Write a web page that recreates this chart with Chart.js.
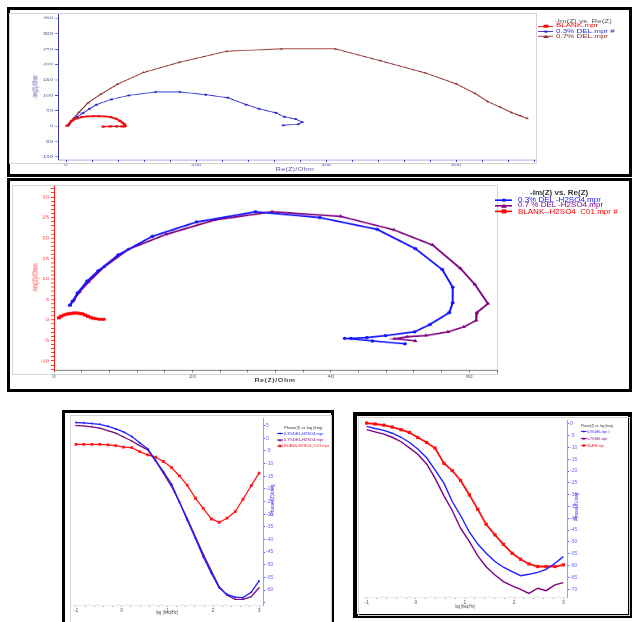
<!DOCTYPE html>
<html>
<head>
<meta charset="utf-8">
<script src="https://cdn.jsdelivr.net/npm/chart.js@4.4.1/dist/chart.umd.min.js"></script>
<style>
  body { margin:0; background:#fff; width:636px; height:622px; overflow:hidden; position:relative;
         font-family:"Liberation Sans", Arial, sans-serif; }
  .frame { position:absolute; border:3px solid #000; box-sizing:border-box; }
  .inner { position:absolute; border:1px solid #d4d4d4; box-sizing:border-box; }
  canvas { position:absolute; }
  .t { position:absolute; white-space:nowrap; line-height:1; }
  .leg { position:absolute; transform-origin:0 0; white-space:nowrap; }
  .mk { display:inline-block; position:relative; vertical-align:top; }
  .mk i { position:absolute; left:50%; top:50%; transform:translate(-50%,-50%); }
  .mk i.rect { width:5px; height:5px; background:var(--c); }
  .mk i.circle { width:4px; height:4px; border-radius:50%; background:var(--c); }
  .mk i.triangle { width:0; height:0; border-left:3px solid transparent; border-right:3px solid transparent; border-bottom:5px solid var(--c); }
</style>
</head>
<body>
<div class="frame" style="left:7px;top:7px;width:625px;height:170px"></div>
<div class="frame" style="left:7px;top:178px;width:625px;height:214px"></div>
<div class="frame" style="left:62px;top:410px;width:272px;height:230px"></div>
<div class="frame" style="left:353px;top:412px;width:279px;height:206px;border-width:4px"></div>
<div class="inner" style="left:9px;top:13px;width:528px;height:151px"></div>
<div class="inner" style="left:12px;top:185px;width:486px;height:190px"></div>
<div class="inner" style="left:70px;top:415px;width:262px;height:210px"></div>
<div class="inner" style="left:358px;top:417px;width:272px;height:199px"></div>

<script>
// ─── Data ────────────────────────────────────────────────────────────────────
// top: Nyquist, BLANK / 0.3% / 0.7% DEL
const p1BlankRe = [1.5, 3.6, 8.7, 16.4, 24.1, 32.8, 42, 50.8, 60, 69, 77, 83, 87, 90, 91, 90, 86, 78, 68, 57];
const p1BlankIm = [1, 3, 17, 25, 29, 31.5, 32.5, 32.5, 31.5, 29, 24, 17, 11, 5.5, 1, -1, -1, -1, -1, -1.5];
const p1Del3Re  = [2, 5, 10, 17, 26, 36, 47, 70, 97, 138, 175, 215, 249, 277, 297, 323, 336, 353, 363, 357, 334];
const p1Del3Im  = [1, 8, 18, 30, 42, 56, 70, 87, 100, 111, 111, 102, 92, 70, 56, 43, 30, 23, 13, 6, 3];
const p1Del7Re  = [2, 6, 12, 20, 34, 53, 79, 119, 174, 247, 331, 414, 484, 552, 600, 629, 648, 668, 685, 698, 709];
const p1Del7Im  = [2, 12, 26, 45, 76, 103, 136, 174, 207, 243, 251, 251, 212, 173, 137, 106, 80, 61, 44, 34, 25];

// middle: Nyquist in H2SO4
const p2Del3Re  = [2.3, 2.7, 3.4, 4.8, 6.4, 9.3, 14.2, 20.6, 29.1, 38.4, 46.7, 52.2, 56.1, 57.6, 57.6, 57.1, 54.3, 52.1, 47.9, 45.2, 42.9, 42.0, 46.0, 50.7];
const p2Del3Im  = [3.6, 4.6, 6.6, 9.5, 12.0, 15.9, 20.4, 23.9, 26.4, 25.0, 22.1, 17.4, 12.3, 8.0, 4.2, 1.8, -1.1, -2.9, -3.8, -4.3, -4.5, -4.5, -5.1, -5.8];
const p2Del7Re  = [2.3, 2.9, 3.7, 5.0, 7.2, 10.7, 16.2, 23.2, 31.5, 41.4, 49.1, 54.7, 58.7, 60.8, 62.7, 61.1, 61.0, 59.2, 56.9, 53.7, 51.0, 49.2, 52.2];
const p2Del7Im  = [3.6, 5.0, 6.9, 9.3, 12.9, 17.2, 20.9, 24.4, 26.4, 25.3, 22.0, 18.3, 12.6, 8.7, 4.0, 1.8, -0.1, -1.7, -2.9, -3.8, -4.1, -4.6, -5.1];
const p2BlankRe = [0.7, 1.0, 1.4, 1.8, 2.1, 2.5, 2.9, 3.3, 3.7, 4.1, 4.5, 4.9, 5.3, 5.7, 6.1, 6.5, 6.9, 7.2];
const p2BlankIm = [0.5, 0.9, 1.2, 1.4, 1.5, 1.6, 1.7, 1.7, 1.6, 1.5, 1.2, 0.9, 0.6, 0.4, 0.3, 0.2, 0.2, 0.2];

// bottom: Bode phase, log(freq)
const logF = [-1.00, -0.83, -0.65, -0.48, -0.30, -0.13, 0.04, 0.22, 0.39, 0.57, 0.74, 0.91,
              1.09, 1.26, 1.43, 1.61, 1.78, 1.96, 2.13, 2.30, 2.48, 2.65, 2.83, 3.00];
const p3Del3  = [6.2, 6.1, 5.8, 5.5, 4.7, 3.7, 2.5, 0.7, -1.8, -4.2, -8.7, -13.2, -18.2, -25.1, -32.3, -39.6, -46.8, -53.4, -59.1, -61.7, -62.8, -63.0, -60.9, -56.4];
const p3Del7  = [5.0, 4.9, 4.5, 4.0, 3.0, 2.0, 0.5, -1.1, -2.9, -4.6, -9.0, -13.8, -19.1, -25.3, -31.6, -38.9, -45.8, -52.5, -58.7, -62.0, -63.7, -63.7, -62.6, -59.1];
const p3Blank = [-2.4, -2.4, -2.4, -2.4, -2.6, -2.9, -3.5, -3.7, -5.3, -6.6, -7.5, -9.2, -11.6, -14.9, -18.5, -23.7, -27.7, -31.9, -33.2, -31.6, -29.0, -24.1, -18.7, -13.8];
const p4Del3  = [-1.1, -2.0, -2.8, -4.0, -5.7, -7.9, -10.7, -14.4, -19.5, -25.1, -32.9, -38.8, -45.9, -50.9, -54.8, -58.3, -60.7, -62.6, -64.3, -63.7, -62.9, -61.6, -59.0, -56.2];
const p4Del7  = [-2.5, -3.4, -4.4, -5.7, -7.6, -10.2, -12.9, -17.0, -23.0, -30.4, -36.7, -44.2, -49.9, -55.9, -60.5, -64.0, -66.8, -68.6, -70.1, -71.8, -69.6, -70.6, -68.2, -67.2];
const p4Blank = [0.3, -0.1, -0.6, -1.4, -2.5, -3.7, -5.8, -7.9, -10.3, -16.7, -19.8, -24.0, -30.1, -36.2, -42.5, -47.0, -51.0, -54.8, -57.3, -59.3, -60.4, -60.4, -60.4, -59.7];

const FONT = '"Liberation Sans", Arial, sans-serif';

function pts(xs, ys) { return xs.map((x, i) => ({ x, y: ys[i] })); }

function ser(label, xs, ys, color, style, r, lw) {
  return { label, data: pts(xs, ys), showLine: true, tension: 0,
    borderColor: color, backgroundColor: color, borderWidth: lw,
    pointStyle: style, pointRadius: r, pointBorderWidth: 0, pointBackgroundColor: color };
}

function axis(o, fit) {
  return {
    type: 'linear', position: o.position, min: o.min, max: o.max,
    ticks: { stepSize: o.step, autoSkip: false, maxRotation: 0, minRotation: 0, includeBounds: false,
             padding: o.pad, color: o.labelColor, font: { family: FONT, size: o.size },
             callback: v => o.label(v) },
    grid: { drawOnChartArea: false, drawTicks: true, tickLength: o.tick, tickColor: o.tickColor },
    border: { display: true, color: o.lineColor, width: 1 },
    afterFit: fit
  };
}

// box = canvas rect on page, area = plot rect on page, sy = vertical squash of the old scan
function panel(box, area, sy, xo, yo, datasets) {
  const cv = document.createElement('canvas');
  cv.width = box.w; cv.height = Math.round(box.h / sy);
  cv.style.left = box.l + 'px'; cv.style.top = box.t + 'px';
  cv.style.width = box.w + 'px'; cv.style.height = box.h + 'px';
  document.body.appendChild(cv);
  const right = yo.position === 'right';
  const yW = right ? box.l + box.w - area.r : area.l - box.l;
  const xH = (box.t + box.h - area.b) / sy;
  new Chart(cv, {
    type: 'scatter',
    data: { datasets },
    options: {
      responsive: false, animation: false, devicePixelRatio: 1,
      layout: { padding: { left: right ? area.l - box.l : 0, right: right ? 0 : box.l + box.w - area.r,
                           top: (area.t - box.t) / sy, bottom: 0 } },
      plugins: { legend: { display: false }, tooltip: { enabled: false } },
      scales: {
        x: axis(Object.assign({ position: 'bottom' }, xo), s => { s.height = xH; }),
        y: axis(yo, s => { s.width = yW; })
      }
    }
  });
}

function txt(s, cx, cy, o) {
  const d = document.createElement('div');
  d.className = 't';
  d.textContent = s;
  d.style.left = cx + 'px'; d.style.top = cy + 'px';
  d.style.fontSize = o.size + 'px'; d.style.color = o.color;
  if (o.bold) d.style.fontWeight = 'bold';
  if (o.ls) d.style.letterSpacing = o.ls + 'px';
  d.style.transform = `translate(-50%,-50%) rotate(${o.rot || 0}deg) scale(${o.sx || 1},${o.sy || 1})`;
  document.body.appendChild(d);
}

function legend(x, y, sx, sy, o) {
  const d = document.createElement('div');
  d.className = 'leg';
  d.style.left = x + 'px'; d.style.top = y + 'px';
  d.style.transform = `scale(${sx},${sy})`;
  d.style.fontSize = o.size + 'px'; d.style.lineHeight = o.lh + 'px';
  let h = `<div style="padding-left:${o.indent}px;color:${o.tc};height:${o.th}px;line-height:${o.th}px;${o.tb ? 'font-weight:bold;' : ''}">${o.title}</div>`;
  for (const r of o.rows) {
    h += `<div style="height:${o.lh}px"><span class="mk" style="width:${o.mw}px;height:${o.lh}px;margin-right:${o.gap}px;` +
         `background:linear-gradient(${r.c},${r.c}) 0 50%/100% ${o.lw}px no-repeat"><i class="${r.s}" style="--c:${r.c}"></i></span>` +
         `<span style="color:${r.c}">${r.t}</span></div>`;
  }
  d.innerHTML = h;
  document.body.appendChild(d);
}

// ─── top panel ───────────────────────────────────────────────────────────────
panel({ l: 10, t: 10, w: 530, h: 164 }, { l: 58, t: 14, r: 535, b: 160 }, 0.65,
  { min: -12.3, max: 721, step: 40, label: v => v % 200 === 0 ? v : '', labelColor: '#55559a',
    lineColor: '#3c3cb4', tickColor: '#3c3cb4', tick: 3, pad: 1, size: 6 },
  { position: 'left', min: -110, max: 364, step: 50, label: v => v, labelColor: '#55559a',
    lineColor: '#3c3cb4', tickColor: '#3c3cb4', tick: 3, pad: 2, size: 6 },
  [ ser('BLANK.mpr', p1BlankRe, p1BlankIm, '#ee0a0a', 'rect', 2.2, 2.4),
    ser('0.3% DEL.mpr #', p1Del3Re, p1Del3Im, '#2a2ad0', 'circle', 1.6, 1.3),
    ser('0.7% DEL.mpr', p1Del7Re, p1Del7Im, '#8e2a2a', 'triangle', 2, 1.3) ]);
txt('-Im(Z)/Ohm', 35, 87, { size: 7, color: '#4545b0', rot: -90, sx: 0.65 });
txt('Re(Z)/Ohm', 295, 169, { size: 7, color: '#555599', sy: 0.65, ls: 0.4 });
legend(538, 18.5, 1, 0.6, { size: 8, lh: 8.3, th: 8.3, indent: 17, tc: '#555', title: '-Im(Z) vs. Re(Z)', mw: 15, gap: 3, lw: 1.5,
  rows: [ { c: '#ee0a0a', s: 'rect', t: 'BLANK.mpr' }, { c: '#2a2ad0', s: 'circle', t: '0.3% DEL.mpr #' },
          { c: '#8e2a2a', s: 'triangle', t: '0.7% DEL.mpr' } ] });

// ─── middle panel ────────────────────────────────────────────────────────────
panel({ l: 10, t: 181, w: 492, h: 208 }, { l: 54, t: 186, r: 497, b: 370 }, 0.8,
  { min: 0, max: 64, step: 4, label: v => v % 20 === 0 ? v : '', labelColor: '#555',
    lineColor: '#555', tickColor: '#777', tick: 3, pad: 1, size: 6 },
  { position: 'left', min: -12.2, max: 32.7, step: 1, label: v => v % 5 === 0 ? v : '', labelColor: '#ff3a3a',
    lineColor: '#ff1a1a', tickColor: '#ff1a1a', tick: 3, pad: 2, size: 6 },
  [ ser('0.3% DEL -H2SO4.mpr', p2Del3Re, p2Del3Im, '#1414ff', 'circle', 2, 2),
    ser('0.7 % DEL -H2SO4.mpr', p2Del7Re, p2Del7Im, '#800080', 'triangle', 2.6, 2),
    ser('BLANK--H2SO4_C01.mpr #', p2BlankRe, p2BlankIm, '#ff0000', 'rect', 2.6, 3) ]);
txt('-Im(Z)/Ohm', 35, 278, { size: 7, color: '#ff2a2a', rot: -90, sx: 0.8 });
txt('Re(Z)/Ohm', 275, 380, { size: 7, color: '#444', bold: true, ls: 0.6, sy: 0.8 });
legend(495, 189, 1, 0.8, { size: 8, lh: 7.3, th: 10, indent: 35, tc: '#333', tb: true, title: '-Im(Z) vs. Re(Z)', mw: 17, gap: 6, lw: 2,
  rows: [ { c: '#1414ff', s: 'circle', t: '0.3% DEL -H2SO4.mpr' }, { c: '#800080', s: 'triangle', t: '0.7 % DEL -H2SO4.mpr' },
          { c: '#ff0000', s: 'rect', t: 'BLANK--H2SO4_C01.mpr #' } ] });

// ─── bottom left panel ───────────────────────────────────────────────────────
panel({ l: 65, t: 413, w: 210, h: 209 }, { l: 71.4, t: 418, r: 263, b: 605 }, 1,
  { min: -1.1, max: 3.087, step: 0.2, label: v => Math.abs(v - Math.round(v)) < 1e-6 ? Math.round(v) : '',
    labelColor: '#555', lineColor: '#ececec', tickColor: '#999', tick: 2, pad: 1, size: 5 },
  { position: 'right', min: -65.9, max: 8, step: 5, label: v => v >= -60 ? v : '', labelColor: '#6a6aff',
    lineColor: '#9c9cff', tickColor: '#5050ff', tick: 2, pad: 1, size: 5 },
  [ ser('0.3%DEL-H2SO4.mpr', logF, p3Del3, '#1f1fff', 'circle', 1, 1.3),
    ser('0.7%DEL-H2SO4.mpr', logF, p3Del7, '#7a0a7a', 'triangle', 1, 1.3),
    ser('BLANK-H2SO4_C01.mpr', logF, p3Blank, '#ff1a1a', 'rect', 2, 1.3) ]);
txt('Phase(Z)/deg', 273, 500, { size: 8, color: '#3a3ae0', rot: -90, sx: 0.65, sy: 0.65 });
txt('log (freq/Hz)', 167, 613, { size: 8, color: '#444', sx: 0.5, sy: 0.6 });
legend(277, 425, 0.5, 0.5, { size: 8, lh: 12.6, th: 11, indent: 14, tc: '#333', title: 'Phase(Z) vs log (freq)', mw: 12, gap: 2, lw: 2,
  rows: [ { c: '#1f1fff', s: 'circle', t: '0.3%DEL-H2SO4.mpr' }, { c: '#7a0a7a', s: 'triangle', t: '0.7%DEL-H2SO4.mpr' },
          { c: '#ff1a1a', s: 'rect', t: 'BLANK-H2SO4_C01.mpr' } ] });

// ─── bottom right panel ──────────────────────────────────────────────────────
panel({ l: 357, t: 416, w: 222, h: 198 }, { l: 363, t: 420, r: 567, b: 597 }, 1,
  { min: -1.075, max: 3.075, step: 0.2, label: v => Math.abs(v - Math.round(v)) < 1e-6 ? Math.round(v) : '',
    labelColor: '#555', lineColor: '#ececec', tickColor: '#999', tick: 2, pad: 1, size: 5 },
  { position: 'right', min: -73.3, max: 1.6, step: 5, label: v => v, labelColor: '#6a6aff',
    lineColor: '#9c9cff', tickColor: '#5050ff', tick: 2, pad: 1, size: 5 },
  [ ser('0.3%DEL.mpr #', logF, p4Del3, '#2020ff', 'circle', 0, 1.4),
    ser('0.7%DEL.mpr', logF, p4Del7, '#800080', 'triangle', 0, 1.4),
    ser('BLANK.mpr', logF, p4Blank, '#ff1010', 'rect', 2.3, 1.8) ]);
txt('Phase(Z)/deg', 577, 507, { size: 8, color: '#3a3ae0', rot: -90, sx: 0.6, sy: 0.6 });
txt('log (freq/Hz)', 465, 607, { size: 8, color: '#444', sx: 0.45, sy: 0.6 });
legend(581, 424, 0.4, 0.5, { size: 8, lh: 14, th: 8, indent: 0, tc: '#333', title: 'Phase(Z) vs. log (freq)', mw: 14, gap: 2, lw: 2,
  rows: [ { c: '#2020ff', s: 'circle', t: '0.3%DEL.mpr #' }, { c: '#800080', s: 'triangle', t: '0.7%DEL.mpr' },
          { c: '#ff1010', s: 'rect', t: 'BLANK.mpr' } ] });
</script>
</body>
</html>
